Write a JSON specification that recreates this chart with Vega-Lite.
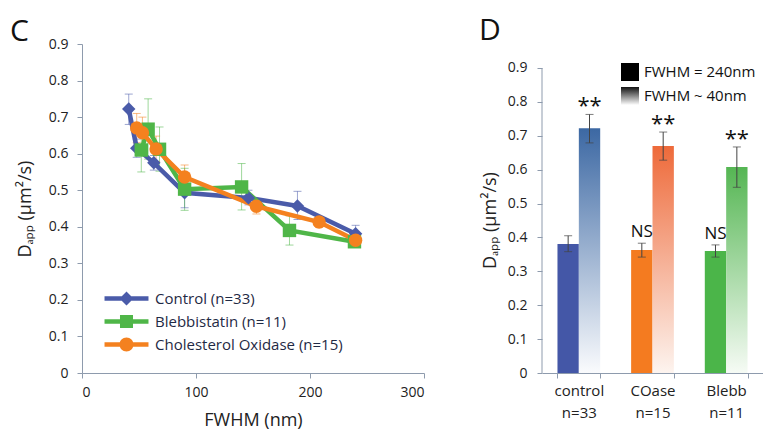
{
  "$schema": "https://vega.github.io/schema/vega-lite/v6.json",
  "background": "white",
  "padding": {"left": 10, "top": 16, "right": 0, "bottom": 0},
  "spacing": 54,
  "config": {
    "font": "Open Sans",
    "view": {"stroke": null},
    "axis": {"domainColor": "#8E9BAD", "tickColor": "#8E9BAD", "labelColor": "#222222", "titleColor": "#222222", "labelFontSize": 14, "titleFontSize": 18, "titleFontWeight": "normal", "grid": false, "tickSize": 5, "labelOverlap": false},
    "title": {"fontSize": 30, "fontWeight": "normal", "anchor": "start", "frame": "group", "color": "#111111"}
  },
  "datasets": {
    "lines": [
      {"series": "Control (n=33)", "fwhm": 41, "d": 0.722, "lo": 0.68, "hi": 0.763},
      {"series": "Control (n=33)", "fwhm": 48, "d": 0.615, "lo": 0.59, "hi": 0.64},
      {"series": "Control (n=33)", "fwhm": 63, "d": 0.575, "lo": 0.555, "hi": 0.595},
      {"series": "Control (n=33)", "fwhm": 90, "d": 0.493, "lo": 0.452, "hi": 0.535},
      {"series": "Control (n=33)", "fwhm": 146, "d": 0.479, "lo": 0.46, "hi": 0.5},
      {"series": "Control (n=33)", "fwhm": 189, "d": 0.457, "lo": 0.42, "hi": 0.497},
      {"series": "Control (n=33)", "fwhm": 240, "d": 0.381, "lo": 0.36, "hi": 0.404},
      {"series": "Blebbistatin (n=11)", "fwhm": 52, "d": 0.61, "lo": 0.55, "hi": 0.67},
      {"series": "Blebbistatin (n=11)", "fwhm": 58, "d": 0.667, "lo": 0.585, "hi": 0.75},
      {"series": "Blebbistatin (n=11)", "fwhm": 68, "d": 0.612, "lo": 0.552, "hi": 0.673},
      {"series": "Blebbistatin (n=11)", "fwhm": 90, "d": 0.503, "lo": 0.445, "hi": 0.56},
      {"series": "Blebbistatin (n=11)", "fwhm": 140, "d": 0.509, "lo": 0.446, "hi": 0.573},
      {"series": "Blebbistatin (n=11)", "fwhm": 182, "d": 0.39, "lo": 0.35, "hi": 0.43},
      {"series": "Blebbistatin (n=11)", "fwhm": 239, "d": 0.359, "lo": 0.35, "hi": 0.37},
      {"series": "Cholesterol Oxidase (n=15)", "fwhm": 48, "d": 0.67, "lo": 0.63, "hi": 0.71},
      {"series": "Cholesterol Oxidase (n=15)", "fwhm": 53, "d": 0.657, "lo": 0.615, "hi": 0.7},
      {"series": "Cholesterol Oxidase (n=15)", "fwhm": 65, "d": 0.613, "lo": 0.578, "hi": 0.648},
      {"series": "Cholesterol Oxidase (n=15)", "fwhm": 90, "d": 0.536, "lo": 0.503, "hi": 0.569},
      {"series": "Cholesterol Oxidase (n=15)", "fwhm": 153, "d": 0.456, "lo": 0.435, "hi": 0.477},
      {"series": "Cholesterol Oxidase (n=15)", "fwhm": 208, "d": 0.413, "lo": 0.398, "hi": 0.428},
      {"series": "Cholesterol Oxidase (n=15)", "fwhm": 240, "d": 0.363, "lo": 0.353, "hi": 0.373}
    ],
    "bars": [
      {"group": "control|n=33", "cond": "240", "d": 0.381, "lo": 0.358, "hi": 0.405, "sig": ""},
      {"group": "control|n=33", "cond": "40", "d": 0.722, "lo": 0.679, "hi": 0.763, "sig": "**"},
      {"group": "COase|n=15", "cond": "240", "d": 0.363, "lo": 0.342, "hi": 0.383, "sig": "NS"},
      {"group": "COase|n=15", "cond": "40", "d": 0.67, "lo": 0.628, "hi": 0.711, "sig": "**"},
      {"group": "Blebb|n=11", "cond": "240", "d": 0.36, "lo": 0.342, "hi": 0.378, "sig": "NS"},
      {"group": "Blebb|n=11", "cond": "40", "d": 0.608, "lo": 0.548, "hi": 0.667, "sig": "**"}
    ],
    "fwhmLegend": [
      {"label": "FWHM = 240nm"},
      {"label": "FWHM ~ 40nm"}
    ],
    "axisLine": [
      {"from": 0, "to": 0.9}
    ]
  },
  "hconcat": [
    {
      "title": {"text": "C", "dx": -72, "offset": -10},
      "width": 342,
      "height": 329,
      "data": {"name": "lines"},
      "resolve": {"scale": {"shape": "independent", "color": "independent"}},
      "layer": [
        {
          "mark": {"type": "rule", "strokeWidth": 1, "opacity": 0.55},
          "encoding": {
            "x": {"field": "fwhm", "type": "quantitative", "scale": {"domain": [0, 300], "nice": false}, "axis": {"values": [0, 100, 200, 300], "title": "FWHM (nm)", "labelPadding": 7, "titlePadding": 12, "labelOverlap": false}},
            "y": {"field": "lo", "type": "quantitative", "scale": {"domain": [0, 0.9], "nice": false}, "axis": {"values": [0, 0.1, 0.2, 0.3, 0.4, 0.5, 0.6, 0.7, 0.8, 0.9], "tickCount": 10, "format": "~g", "labelOverlap": false, "title": "Dₐₚₚ (μm²/s)", "labelPadding": 9, "titlePadding": 14}},
            "y2": {"field": "hi"},
            "color": {"field": "series", "type": "nominal", "scale": {"domain": ["Control (n=33)", "Blebbistatin (n=11)", "Cholesterol Oxidase (n=15)"], "range": ["#4A5BA9", "#4FB648", "#F4811F"]}, "legend": null}
          }
        },
        {
          "mark": {"type": "tick", "orient": "horizontal", "size": 8, "thickness": 1, "opacity": 0.55},
          "encoding": {
            "x": {"field": "fwhm", "type": "quantitative"},
            "y": {"field": "lo", "type": "quantitative"},
            "color": {"field": "series", "type": "nominal", "scale": {"domain": ["Control (n=33)", "Blebbistatin (n=11)", "Cholesterol Oxidase (n=15)"], "range": ["#4A5BA9", "#4FB648", "#F4811F"]}, "legend": null}
          }
        },
        {
          "mark": {"type": "tick", "orient": "horizontal", "size": 8, "thickness": 1, "opacity": 0.55},
          "encoding": {
            "x": {"field": "fwhm", "type": "quantitative"},
            "y": {"field": "hi", "type": "quantitative"},
            "color": {"field": "series", "type": "nominal", "scale": {"domain": ["Control (n=33)", "Blebbistatin (n=11)", "Cholesterol Oxidase (n=15)"], "range": ["#4A5BA9", "#4FB648", "#F4811F"]}, "legend": null}
          }
        },
        {
          "mark": {"type": "line", "strokeWidth": 4.5},
          "encoding": {
            "x": {"field": "fwhm", "type": "quantitative"},
            "y": {"field": "d", "type": "quantitative"},
            "color": {"field": "series", "type": "nominal", "scale": {"domain": ["Control (n=33)", "Blebbistatin (n=11)", "Cholesterol Oxidase (n=15)"], "range": ["#4A5BA9", "#4FB648", "#F4811F"]}, "legend": null}
          }
        },
        {
          "mark": {"type": "point", "filled": true, "opacity": 1, "size": 180},
          "encoding": {
            "x": {"field": "fwhm", "type": "quantitative"},
            "y": {"field": "d", "type": "quantitative"},
            "color": {"field": "series", "type": "nominal", "scale": {"domain": ["Control (n=33)", "Blebbistatin (n=11)", "Cholesterol Oxidase (n=15)"], "range": ["#4A5BA9", "#4FB648", "#F4811F"]}, "legend": null},
            "shape": {"field": "series", "type": "nominal", "scale": {"domain": ["Control (n=33)", "Blebbistatin (n=11)", "Cholesterol Oxidase (n=15)"], "range": ["diamond", "square", "circle"]}, "legend": null}
          }
        },
        {
          "mark": {"type": "point", "filled": true, "opacity": 0, "size": 196},
          "encoding": {
            "x": {"field": "fwhm", "type": "quantitative"},
            "y": {"field": "d", "type": "quantitative"},
            "color": {"field": "series", "type": "nominal", "scale": {"domain": ["Control (n=33)", "Blebbistatin (n=11)", "Cholesterol Oxidase (n=15)"], "range": ["#4A5BA9", "#4FB648", "#F4811F"]}, "legend": {"orient": "none", "legendX": 37, "legendY": 247, "title": null, "symbolSize": 196, "labelOffset": 21, "labelFontSize": 15, "labelLimit": 400, "labelColor": "#1F2A44", "rowPadding": 7, "symbolOpacity": 1, "symbolStrokeWidth": 0, "padding": 0}},
            "shape": {"field": "series", "type": "nominal", "scale": {"domain": ["Control (n=33)", "Blebbistatin (n=11)", "Cholesterol Oxidase (n=15)"], "range": ["M-3.14,-0.31H3.14V0.31H-3.14Z M0,-1L1,0L0,1L-1,0Z", "M-3.14,-0.31H3.14V0.31H-3.14Z M-0.93,-0.93H0.93V0.93H-0.93Z", "M-3.14,-0.31H3.14V0.31H-3.14Z M-1,0A1,1 0 1,1 1,0A1,1 0 1,1 -1,0Z"]}, "legend": {"orient": "none", "legendX": 37, "legendY": 247, "title": null, "symbolSize": 196, "labelOffset": 21, "labelFontSize": 15, "labelLimit": 400, "labelColor": "#1F2A44", "rowPadding": 7, "symbolOpacity": 1, "symbolStrokeWidth": 0, "padding": 0}}
          }
        }
      ]
    },
    {
      "title": {"text": "D", "dx": -63, "offset": -2},
      "width": 221,
      "height": 329,
      "layer": [
        {
          "data": {"name": "bars"},
          "transform": [{"filter": "datum.cond == '240'"}],
          "mark": {"type": "bar"},
          "encoding": {
            "x": {"field": "group", "type": "nominal", "sort": null, "scale": {"domain": ["control|n=33", "COase|n=15", "Blebb|n=11"], "paddingInner": 0.42, "paddingOuter": 0.21}, "axis": {"title": null, "labelAngle": 0, "tickBand": "extent", "labelExpr": "datum.value ? split(datum.value, '|') : ''", "labelPadding": 5, "labelLineHeight": 22, "labelFontSize": 15}},
            "xOffset": {"field": "cond", "type": "nominal", "sort": null, "scale": {"domain": ["240", "40"], "paddingInner": 0, "paddingOuter": 0}},
            "y": {"field": "d", "type": "quantitative", "scale": {"domain": [0, 0.9708], "nice": false}, "axis": {"values": [0, 0.1, 0.2, 0.3, 0.4, 0.5, 0.6, 0.7, 0.8, 0.9], "tickCount": 10, "format": "~g", "labelOverlap": false, "domain": false, "title": "Dₐₚₚ (μm²/s)", "titleY": 176, "labelPadding": 10, "titlePadding": 8}},
            "fill": {"field": "group", "type": "nominal", "scale": {"domain": ["control|n=33", "COase|n=15", "Blebb|n=11"], "range": ["#4457A7", "#F47B20", "#4BB549"]}, "legend": null}
          }
        },
        {
          "data": {"name": "bars"},
          "transform": [{"filter": "datum.cond == '40' && datum.group == 'control|n=33'"}],
          "mark": {"type": "bar", "fill": {"gradient": "linear", "x1": 0, "y1": 0, "x2": 0, "y2": 1, "stops": [{"offset": 0, "color": "#3C68A3"}, {"offset": 1, "color": "#FAFBFD"}]}},
          "encoding": {
            "x": {"field": "group", "type": "nominal", "sort": null},
            "xOffset": {"field": "cond", "type": "nominal", "sort": null},
            "y": {"field": "d", "type": "quantitative"}
          }
        },
        {
          "data": {"name": "bars"},
          "transform": [{"filter": "datum.cond == '40' && datum.group == 'COase|n=15'"}],
          "mark": {"type": "bar", "fill": {"gradient": "linear", "x1": 0, "y1": 0, "x2": 0, "y2": 1, "stops": [{"offset": 0, "color": "#EE6A3A"}, {"offset": 1, "color": "#FDF4EF"}]}},
          "encoding": {
            "x": {"field": "group", "type": "nominal", "sort": null},
            "xOffset": {"field": "cond", "type": "nominal", "sort": null},
            "y": {"field": "d", "type": "quantitative"}
          }
        },
        {
          "data": {"name": "bars"},
          "transform": [{"filter": "datum.cond == '40' && datum.group == 'Blebb|n=11'"}],
          "mark": {"type": "bar", "fill": {"gradient": "linear", "x1": 0, "y1": 0, "x2": 0, "y2": 1, "stops": [{"offset": 0, "color": "#55B653"}, {"offset": 1, "color": "#F6FBF5"}]}},
          "encoding": {
            "x": {"field": "group", "type": "nominal", "sort": null},
            "xOffset": {"field": "cond", "type": "nominal", "sort": null},
            "y": {"field": "d", "type": "quantitative"}
          }
        },
        {
          "data": {"name": "axisLine"},
          "mark": {"type": "rule", "strokeWidth": 1, "color": "#8E9BAD"},
          "encoding": {
            "x": {"value": 0},
            "y": {"field": "from", "type": "quantitative"},
            "y2": {"field": "to"}
          }
        },
        {
          "data": {"name": "bars"},
          "mark": {"type": "rule", "strokeWidth": 1, "color": "#444444"},
          "encoding": {
            "x": {"field": "group", "type": "nominal", "sort": null},
            "xOffset": {"field": "cond", "type": "nominal", "sort": null},
            "y": {"field": "lo", "type": "quantitative"},
            "y2": {"field": "hi"}
          }
        },
        {
          "data": {"name": "bars"},
          "mark": {"type": "tick", "orient": "horizontal", "size": 8, "thickness": 1, "color": "#444444"},
          "encoding": {
            "x": {"field": "group", "type": "nominal", "sort": null},
            "xOffset": {"field": "cond", "type": "nominal", "sort": null},
            "y": {"field": "lo", "type": "quantitative"}
          }
        },
        {
          "data": {"name": "bars"},
          "mark": {"type": "tick", "orient": "horizontal", "size": 8, "thickness": 1, "color": "#444444"},
          "encoding": {
            "x": {"field": "group", "type": "nominal", "sort": null},
            "xOffset": {"field": "cond", "type": "nominal", "sort": null},
            "y": {"field": "hi", "type": "quantitative"}
          }
        },
        {
          "data": {"name": "bars"},
          "transform": [{"filter": "datum.cond == '40'"}],
          "mark": {"type": "text", "fontSize": 22, "baseline": "alphabetic", "dy": -1, "color": "#111111"},
          "encoding": {
            "x": {"field": "group", "type": "nominal", "sort": null},
            "xOffset": {"field": "cond", "type": "nominal", "sort": null},
            "y": {"field": "hi", "type": "quantitative"},
            "text": {"field": "sig"}
          }
        },
        {
          "data": {"name": "bars"},
          "transform": [{"filter": "datum.cond == '240'"}],
          "mark": {"type": "text", "fontSize": 17, "baseline": "alphabetic", "dy": -6, "color": "#111111"},
          "encoding": {
            "x": {"field": "group", "type": "nominal", "sort": null},
            "xOffset": {"field": "cond", "type": "nominal", "sort": null},
            "y": {"field": "hi", "type": "quantitative"},
            "text": {"field": "sig"}
          }
        },
        {
          "data": {"name": "fwhmLegend"},
          "transform": [{"filter": "datum.label == 'FWHM = 240nm'"}],
          "mark": {"type": "square", "opacity": 0, "size": 324},
          "encoding": {
            "color": {"field": "label", "type": "nominal", "scale": {"domain": ["FWHM = 240nm"], "range": ["#000000"]}, "legend": {"orient": "none", "legendX": 539, "legendY": 19, "title": null, "symbolType": "square", "symbolSize": 324, "labelOffset": 5, "labelFontSize": 15, "labelColor": "#111111", "symbolOpacity": 1, "symbolStrokeWidth": 0, "padding": 0}}
          }
        },
        {
          "data": {"name": "fwhmLegend"},
          "transform": [{"filter": "datum.label == 'FWHM ~ 40nm'"}],
          "mark": {"type": "point", "opacity": 0, "size": 324, "filled": true, "color": {"gradient": "linear", "x1": 0, "y1": 0, "x2": 0, "y2": 1, "stops": [{"offset": 0, "color": "#111111"}, {"offset": 1, "color": "#FFFFFF"}]}},
          "encoding": {
            "shape": {"field": "label", "type": "nominal", "scale": {"domain": ["FWHM ~ 40nm"], "range": ["square"]}, "legend": {"orient": "none", "legendX": 539, "legendY": 43, "title": null, "symbolSize": 324, "labelOffset": 5, "labelFontSize": 15, "labelColor": "#111111", "symbolOpacity": 1, "symbolStrokeWidth": 0, "padding": 0}}
          }
        }
      ]
    }
  ]
}
